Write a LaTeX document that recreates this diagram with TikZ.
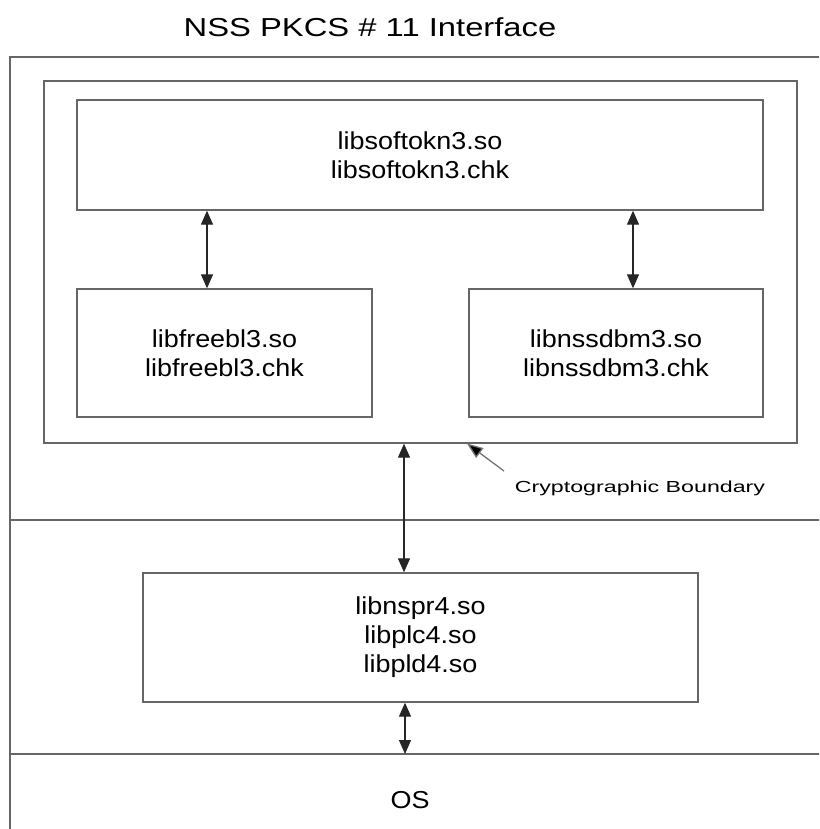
\documentclass[tikz,border=0pt]{standalone}
\usepackage{fontspec}
\setmainfont{Liberation Sans}
\newfontfamily\bodyfont[FakeStretch=1.1]{Liberation Sans}
\newfontfamily\titlefont[FakeStretch=1.26]{Liberation Sans}
\newfontfamily\labelfont[FakeStretch=1.45]{Liberation Sans}
\usetikzlibrary{arrows.meta}
\tikzset{
  frameline/.style={draw=black!60, line width=1.4pt},
  libbox/.style={frameline, rectangle, inner sep=0pt, align=center,
    font=\bodyfont\fontsize{24.5}{29}\selectfont},
  duo/.style={line width=1.3pt, draw=black!85,
    {Triangle[length=14pt,width=12pt]}-{Triangle[length=14pt,width=12pt]}},
  pointer/.style={line width=1.3pt, draw=black!55, -{Triangle[length=16pt,width=12pt,fill=black]}}
}
\begin{document}
\begin{tikzpicture}[x=1pt,y=-1pt]
\useasboundingbox (0,0) rectangle (819,829);
\clip (0,0) rectangle (819,829);
% outer frame
\draw[frameline] (825,57) -- (10,57) -- (10,835);
\draw[frameline] (10,520) -- (825,520);
\draw[frameline] (10,754) -- (825,754);
% title
\node[font=\titlefont\fontsize{26}{30}\selectfont] (title) at (370,27) {NSS PKCS \# 11 Interface};
% cryptographic boundary
\node[frameline, rectangle, inner sep=0pt, minimum width=753pt, minimum height=362pt] (crypto) at (420.5,262) {};
\node[libbox, minimum width=686pt, minimum height=110pt] (soft) at (420,155) {libsoftokn3.so\\libsoftokn3.chk};
\node[libbox, minimum width=295pt, minimum height=128pt] (freebl) at (224.5,353) {libfreebl3.so\\libfreebl3.chk};
\node[libbox, minimum width=294pt, minimum height=128pt] (nssdbm) at (616,353) {libnssdbm3.so\\libnssdbm3.chk};
\node[libbox, minimum width=555pt, minimum height=129pt] (nspr) at (420.5,637.5) {libnspr4.so\\libplc4.so\\libpld4.so};
\node[font=\bodyfont\fontsize{24.5}{29}\selectfont] (os) at (410,800) {OS};
\node[font=\labelfont\fontsize{16}{19}\selectfont] (cblabel) at (640,488) {Cryptographic Boundary};
\coordinate (osline) at (405,754);
\coordinate (ptail) at (504,471);
\coordinate (phead) at (467,443.5);
% connectors
\draw[duo] (soft.south -| 207,0) -- (freebl.north -| 207,0);
\draw[duo] (soft.south -| 633,0) -- (nssdbm.north -| 633,0);
\draw[duo] (crypto.south -| 404,0) -- (nspr.north -| 404,0);
\draw[duo] (nspr.south -| 405,0) -- (osline);
\draw[pointer] (ptail) -- (phead);
\end{tikzpicture}
\end{document}
